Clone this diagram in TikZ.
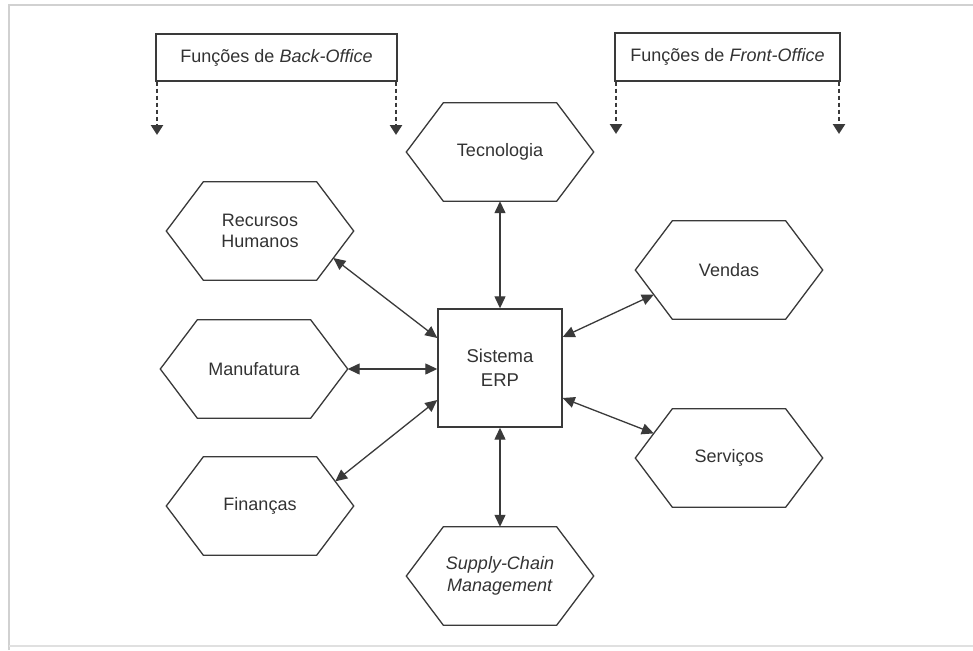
\documentclass[tikz,border=0pt]{standalone}
\usepackage{fontspec}
\setmainfont{Liberation Sans}
\usetikzlibrary{arrows.meta,calc}
\definecolor{ink}{HTML}{3A3A3A}
\definecolor{txt}{HTML}{333333}
\newcommand\drawhexa[1]{\draw[hexline] (#1.west) -- ([xshift=37pt]#1.north west) -- ([xshift=-37pt]#1.north east) -- (#1.east) -- ([xshift=-37pt]#1.south east) -- ([xshift=37pt]#1.south west) -- cycle;}
\begin{document}
\begin{tikzpicture}[x=1pt,y=-1pt,
  hexnode/.style={minimum width=187pt,minimum height=98pt,inner sep=0pt,align=center,text=txt,font=\fontsize{18}{21.5}\selectfont},
  hexline/.style={draw=ink,line width=1.3pt,line join=miter},
  labelbox/.style={draw=ink,line width=1.5pt,inner sep=0pt,text=txt,font=\fontsize{18}{20}\selectfont},
  erpbox/.style={draw=ink,line width=1.4pt,minimum width=124pt,minimum height=118pt,inner sep=0pt,align=center,text=txt,font=\fontsize{18.5}{24}\selectfont},
  link/.style={draw=ink,line width=1.3pt,{Triangle[length=12pt,width=11pt]}-{Triangle[length=12pt,width=11pt]}},
  dasharrow/.style={draw=ink,line width=2.5pt,dash pattern=on 4pt off 3pt,-{Triangle[length=10pt,width=12pt]}}]
\useasboundingbox (0,0) rectangle (973,650);
\fill[white] (0,0) rectangle (973,650);
% frame
\draw[black!18,line width=2.5pt] (9,650) -- (9,5) -- (973,5);
\draw[black!12,line width=2pt] (9,646) -- (973,646);
% top labels
\node[labelbox,minimum width=241pt,minimum height=47pt] (bo) at (276.5,57.5) {Funções de \textit{Back-Office}};
\node[labelbox,minimum width=225pt,minimum height=48pt] (fo) at (727.5,57) {Funções de \textit{Front-Office}};
\coordinate (boL) at (157,135);
\coordinate (boR) at (396,135);
\coordinate (foL) at (616,134);
\coordinate (foR) at (839,134);
\draw[dasharrow] (bo.south west -| boL) -- (boL);
\draw[dasharrow] (bo.south east -| boR) -- (boR);
\draw[dasharrow] (fo.south west -| foL) -- (foL);
\draw[dasharrow] (fo.south east -| foR) -- (foR);
% nodes
\node[hexnode] (tec) at (500,152) {Tecnologia};
\node[hexnode] (rh) at (260,231) {Recursos\\Humanos};
\node[hexnode] (man) at (254,369) {Manufatura};
\node[hexnode] (fin) at (260,506) {Finanças};
\node[hexnode] (ven) at (729,270) {Vendas};
\node[hexnode] (ser) at (729,458) {Serviços};
\node[hexnode] (scm) at (500,576) {\textit{Supply-Chain}\\\textit{Management}};
\node[erpbox] (erp) at (500,368) {Sistema\\ERP};
\drawhexa{tec}
\drawhexa{rh}
\drawhexa{man}
\drawhexa{fin}
\drawhexa{ven}
\drawhexa{ser}
\drawhexa{scm}
% connectors
\draw[link] (tec.south) -- (erp.north);
\draw[link] (erp.south) -- (scm.north);
\draw[link] ($(rh.east)!0.55!([xshift=-37pt]rh.south east)$) -- ([yshift=30pt]erp.west);
\draw[link] (man.east) -- (man.east -| erp.west);
\draw[link] ($(fin.east)!0.5!([xshift=-37pt]fin.north east)$) -- ([yshift=-32pt]erp.west);
\draw[link] ($(ven.west)!0.5!([xshift=37pt]ven.south west)$) -- ([yshift=31pt]erp.east);
\draw[link] ($(ser.west)!0.5!([xshift=37pt]ser.north west)$) -- ([yshift=-30pt]erp.east);
\end{tikzpicture}
\end{document}
